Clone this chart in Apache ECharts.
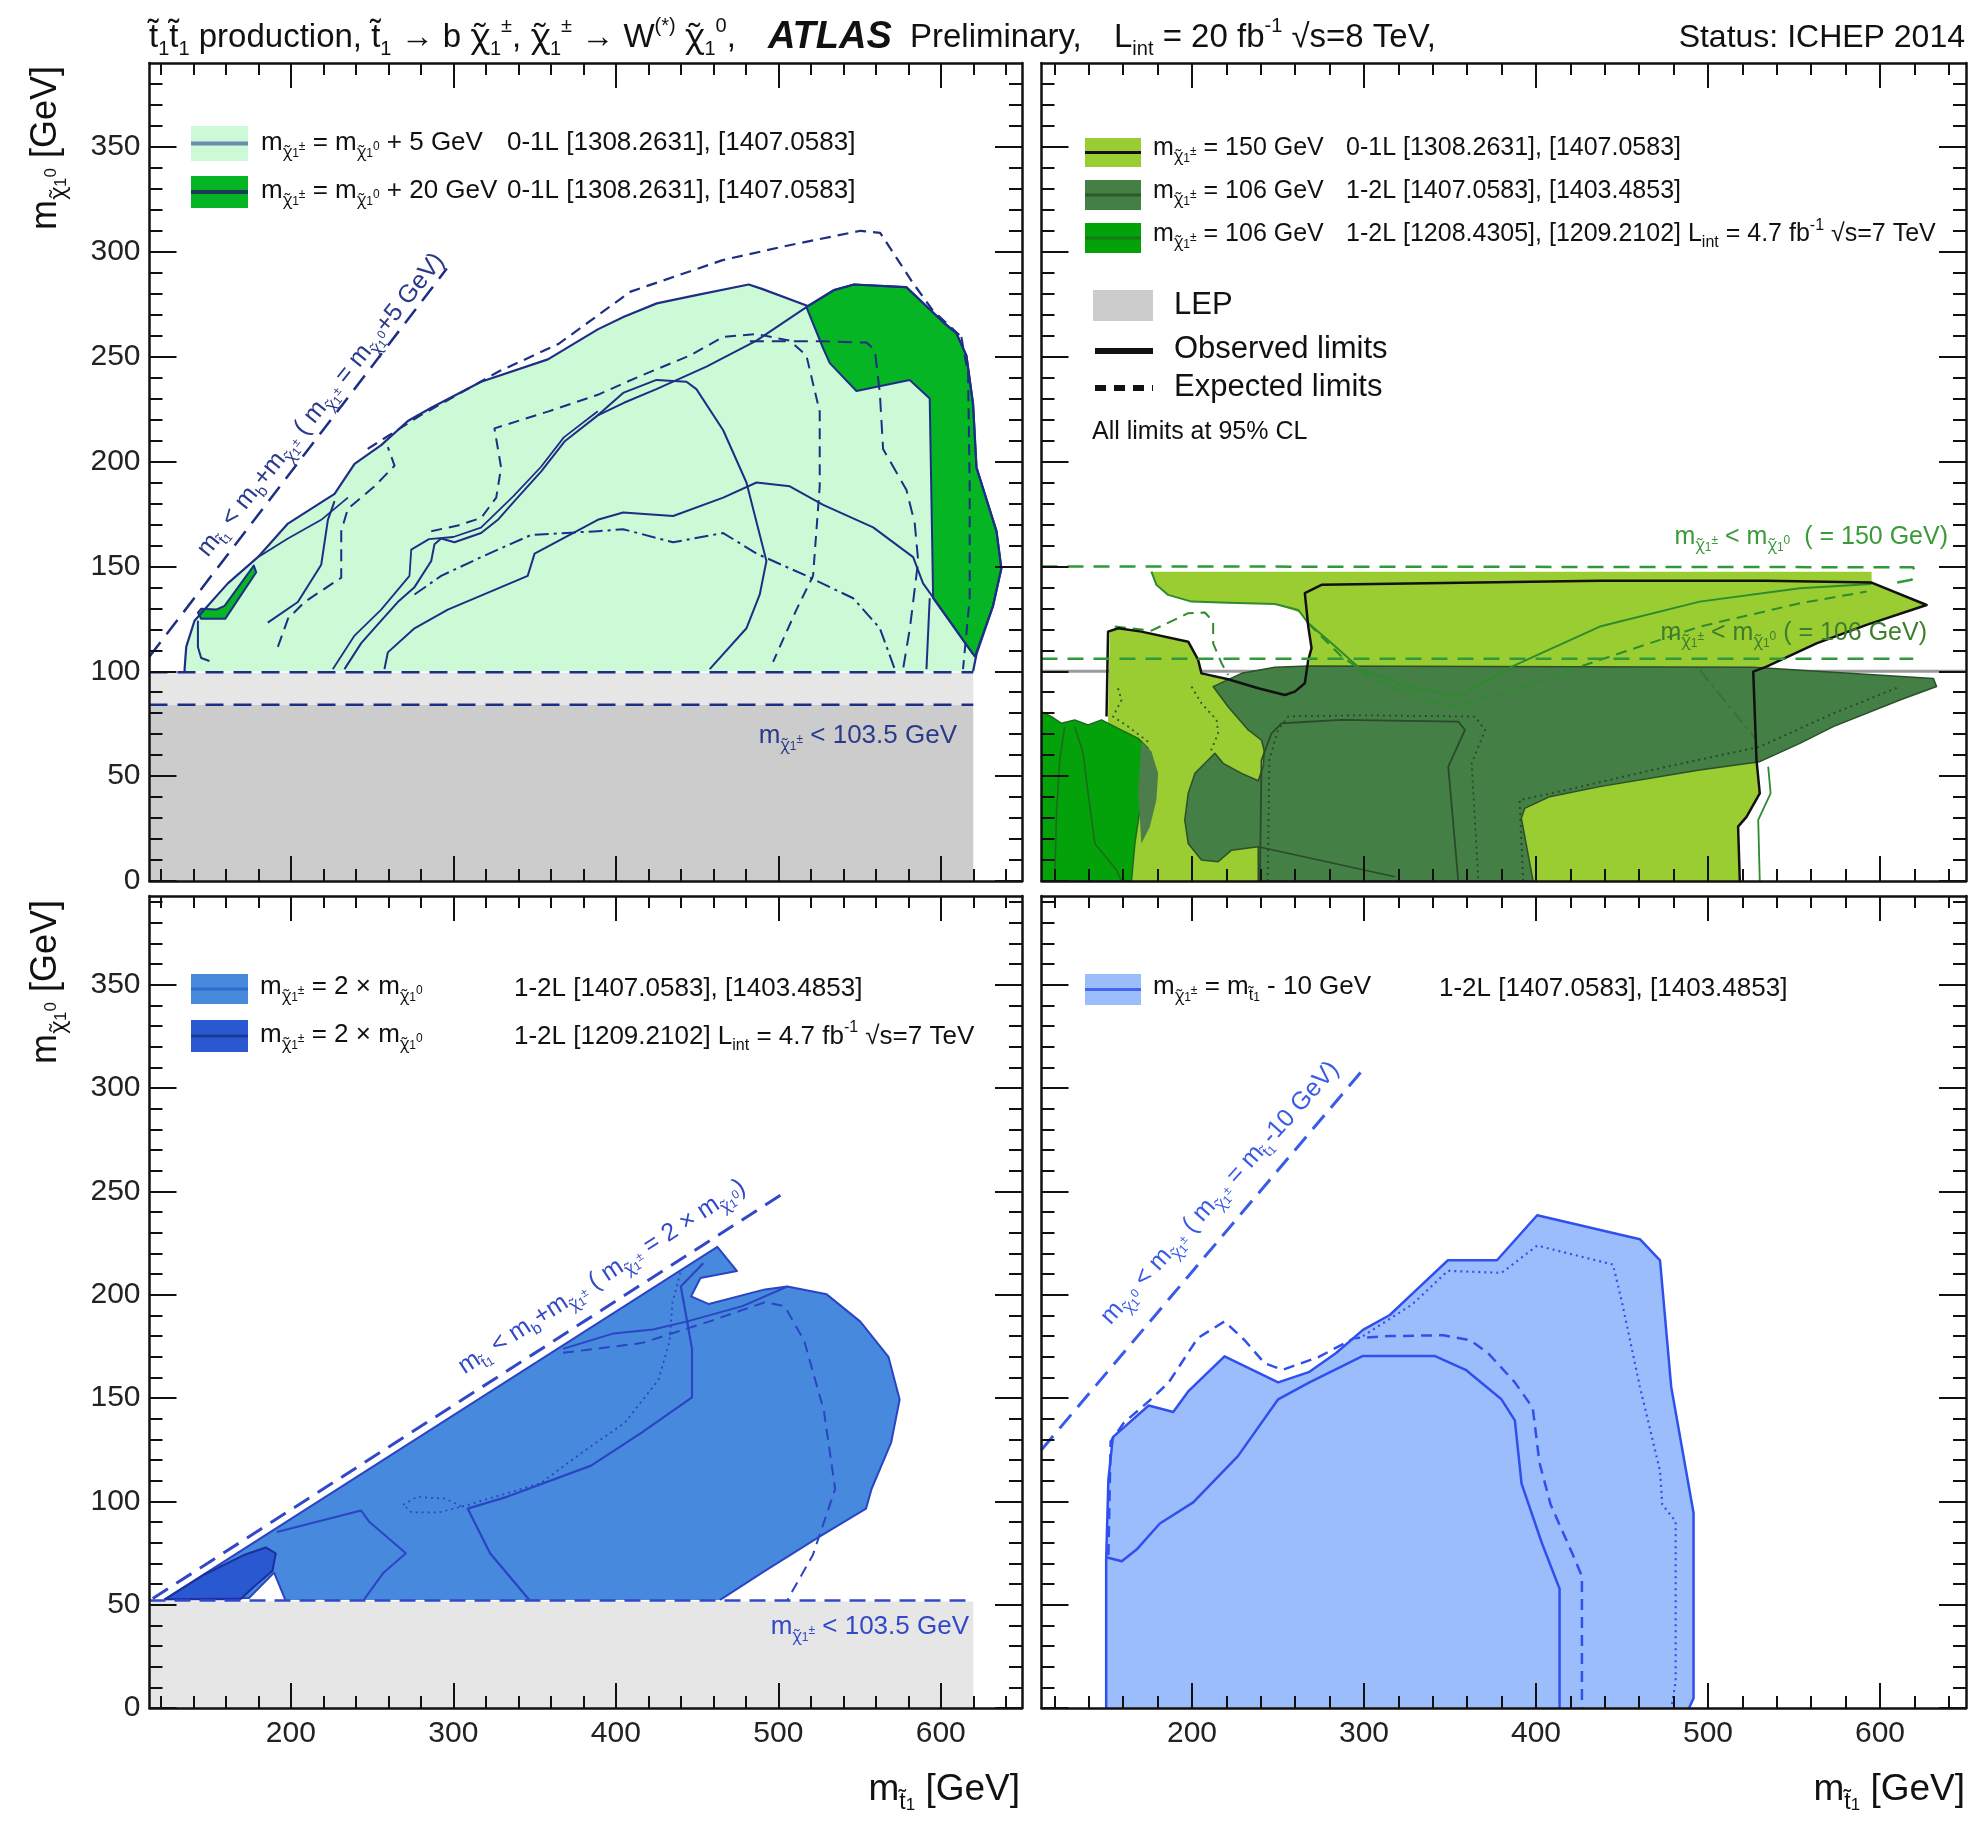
<!DOCTYPE html>
<html><head><meta charset="utf-8">
<script src="https://cdn.jsdelivr.net/npm/echarts/dist/echarts.min.js"></script>
<style>html,body{margin:0;padding:0;background:#fff}#c{width:1974px;height:1829px}</style>
</head><body><div id="c"></div>
<script>
// ---------- tick labels ----------
const xMajorTicks = [200,300,400,500,600];
const xMinorTicks = [120,140,160,180,220,240,260,280,320,340,360,380,420,440,460,480,520,540,560,580,620,640];
const yMajorTicks = [0,50,100,150,200,250,300,350];
const yMinorTicks = [10,20,30,40,60,70,80,90,110,120,130,140,160,170,180,190,210,220,230,240,260,270,280,290,310,320,330,340,360,370,380,390];

// ---------- top-left: m(chi+-) = m(chi0) + 5 / +20 GeV ----------
const tlLepDark = [[113,0],[620,0],[620,84],[113,84]];
const tlLepLight = [[113,84],[620,84],[620,99.3],[113,99.3]];
const tlObs5 = [[134.6,100],[134.6,101.0],[135.6,111.6],[140.7,124.1],[144.8,127.7],[161.2,141.9],[179.7,154.4],[198.2,170.4],[226.9,184.6],[239.2,198.9],[255.6,207.8],[272.0,219.3],[286.4,225.6],[317.1,238.0],[358.2,248.7],[388.9,263.0],[405.0,269.0],[425.2,275.4],[449.5,279.3],[481.8,284.4],[489.9,282.3],[518.2,274.1],[534.4,281.8],[546.6,284.4],[578.9,283.1],[601.4,266.5],[609.6,261.2],[615.8,250.5],[619.9,227.3],[622.0,197.1],[634.3,166.8],[637.3,149.0],[632.2,131.2],[622.0,108.1],[619.9,100]];
const tlObs20 = [[518.2,274.1],[534.4,281.8],[546.6,284.4],[578.9,283.1],[601.4,266.5],[609.6,261.2],[615.8,250.5],[619.9,227.3],[622.0,197.1],[634.3,166.8],[637.3,149.0],[632.2,131.2],[621.0,107.0],[595.3,134.8],[593.2,230.0],[580.9,238.9],[548.1,233.6],[531.7,246.9],[527.6,254.0],[517.3,273.6]];
const tlSliver = [[142.8,128.0],[144.8,125.0],[159.6,125.0],[178.7,147.2],[177.2,150.4],[159.2,131.2],[154.1,129.4],[144.8,129.8]];
const tlKin = [[113,107],[296,292]];
const tlLepLine1 = [[113,99.5],[620,99.5]];
const tlLepLine2 = [[113,84],[620,84]];
const tlExpEnv = [[247.3,206],[279.7,222],[328.2,243],[364.6,256],[409.1,281],[465.7,296],[506.1,303],[550.6,310],[562.7,309],[583.0,285],[595.1,272],[613.3,259]];
const tlA = [[233.0,101.0],[243.3,113.4],[255.6,124.1],[265.8,133.0],[276.1,140.1],[286.4,152.6],[288.4,160.6],[292.5,163.3],[300.7,161.5],[317.1,165.9],[327.4,172.2],[337.6,181.1],[354.1,195.3],[368.4,209.5],[388.9,222.0],[405,228],[425.0,234.5],[455.8,245.2],[486.6,257.6],[517.3,273.6]];
const tlA2 = [[225.8,101],[239.2,117],[255.6,129.4],[273,145.5],[274.1,158],[285,163],[300,164],[317,168.5],[337,183.5],[354,197.5],[368,211.5],[388.9,224]];
const tlB = [[457.8,101.0],[480.4,120.5],[488.6,136.6],[492.7,152.6],[480.4,190.0],[466.1,214.9],[449.6,234.5],[443.5,238.0],[425.0,238.9],[404.5,232.7],[388.9,222.0]];
const tlC = [[257.6,101],[259.7,109],[276.1,120.5],[296.6,129.4],[345.8,145.5],[350,156.1],[388.9,172.2],[404.5,175.7],[435.3,174],[466.1,182.8],[486.6,190],[507.1,188.2],[527.6,179.3],[558.4,168.6],[583,154.4],[589.1,141.9],[597.3,133],[619.9,108.1]];
const tlD = [[286.4,166.8],[302.8,169.5],[317.1,173.1],[326.4,182.8],[329.4,197.1],[325.3,215.8],[358.2,223.8],[388.9,231.8],[414.8,240.7],[445.5,250.5],[466.1,259.4],[486.6,260.8],[507.1,257.6],[517.3,250.5],[525.5,223.8],[525.5,188.2],[521.4,145.5],[511.2,129.4],[496.8,104.5]];
const tlE = [[482.5,257.3],[527.6,257.3],[554.3,256.7],[559.4,253.2],[562.5,232.7],[564.5,206.0],[578.9,186.4],[584.0,170.4],[586.1,152.6],[581.0,120.5],[576.8,101.0]];
const tlF = [[276.1,136.6],[292.5,145.5],[317.1,154.4],[347.9,165.0],[388.9,166.8],[404.5,167.7],[435.3,161.5],[466.1,165.9],[486.6,156.1],[517.3,145.5],[546.1,134.8],[562.5,120.5],[571.7,101.0]];
const tlG = [[192,111.6],[198.2,125],[208.4,133],[231,144.6],[231,166.8],[235.1,177.5],[251.5,188.2],[263.8,198],[259.7,206.9]];
const tlH = [[185.8,123.2],[204.3,133],[218.7,150.8],[222.8,172.2],[226.9,181.1]];
const tlH2 = [[179.7,154.4],[198.2,163.3],[218.7,172.2],[235.1,182.8]];
const tlHook = [[142.8,124.1],[142.8,111.6],[144.8,106.3],[149.9,104.9]];
const tlBandExp = [[612.7,259.4],[616.8,241.6],[617.8,188.2],[617.8,134.8],[613.7,101]];
const tlBandObs = [[593.2,134.8],[591.2,101.0]];

// ---------- top-right: m(chi+-) = 150 / 106 GeV ----------
const trLep100 = [[112.5,100],[650,100]];
const trLime = [[176.4,147.5],[595.1,147.5],[595.1,142.0],[627.1,131.6],[592.2,122.1],[563.1,113.3],[534.0,102.5],[528.2,100.6],[528.2,57.7],[530.1,41.8],[522.4,30.6],[517.5,25.9],[518.5,0],[151.2,0],[151.2,78.4],[152.2,118.9],[157.1,120.5],[170.6,118.9],[197.8,114.1],[203.6,105.4],[206.5,98.2],[221.0,95.9],[267.6,100.6],[269.5,111.7],[267.6,121.3],[263.7,127.7],[248.2,132.1],[221.0,132.7],[199.7,133.2],[186.1,136.4],[179.3,141.6]];
const trDark = [[212.3,92.7],[228.8,99.0],[248.2,101.9],[267.6,102.5],[526.3,101.9],[631.0,96.6],[632.9,92.7],[611.6,86.3],[572.8,73.6],[553.4,65.6],[530.1,56.9],[495.2,52.9],[437.1,45.0],[408.0,40.2],[393.4,34.6],[391.5,29.9],[398.3,0],[238.5,0],[238.5,16.3],[223.0,14.7],[215.2,9.2],[205.5,10.0],[197.8,17.9],[195.8,29.1],[197.8,41.8],[201.7,51.3],[207.5,56.1],[213.3,60.9],[218.1,56.1],[228.8,51.3],[238.5,47.8],[241.5,55],[242,62],[240.4,67.2],[232.7,72.0],[221.0,83.1]];
const trBright = [[112.5,80.7],[118.3,78.4],[124.1,75.2],[131.8,76.8],[139.6,74.4],[147.4,76.8],[157.0,72.8],[168.7,68.0],[174.5,63.3],[176.4,54.5],[173.5,45.0],[169.7,33.8],[166.8,17.9],[164.8,0],[112.5,0]];
const trStrip = [[170.6,66.4],[176.4,61.7],[180.3,51.3],[179.3,38.6],[175.5,25.9],[170.6,17.9],[168.7,41.8]];
const trObs = [[150.3,78.4],[151.2,118.9],[157.1,120.5],[170.6,118.9],[197.8,114.1],[203.6,105.4],[205.5,99.0],[221.0,96.2],[238.5,91.9],[254.0,88.7],[259.8,90.3],[265.6,94.3],[267.6,105.4],[269.5,111.0],[267.6,121.3],[265.6,137.2],[275.3,141.2],[437.1,143.2],[534.0,143.2],[595.1,142.3],[627.1,131.6],[592.2,122.1],[563.1,113.3],[534.0,102.2],[526.3,99.8],[528.2,57.7],[530.1,41.8],[522.4,30.6],[517.5,25.9],[518.5,0]];
const trKin150 = [[112.5,150],[619.3,149.6],[620.3,146.7],[618.4,143.6],[607.7,142.0]];
const trKin106 = [[112.5,106],[619.3,106]];
const trG1 = [[176.4,147.5],[179.3,141.2],[186.1,136.4],[199.7,133.2],[221.0,132.7],[248.2,132.1],[261.8,129.2],[267.6,122.9],[281.2,113.3],[298.6,100.6],[325.8,92.7],[354.8,87.9],[385.9,102.2],[437.1,121.3],[495.2,133.2],[553.4,139.6],[595.1,141.6]];
const trG2 = [[267.6,122.9],[287.0,107.0],[306.4,95.9],[335.5,86.3],[354.8,83.1],[385.9,91.1],[437.1,105.4],[495.2,121.3],[553.4,132.4],[592.2,138.0]];
const trG3 = [[155.1,121.3],[176.4,119.4],[193.9,126.1],[197.8,127.7],[207.5,128.0],[212.3,123.7],[212.3,113.3],[217.2,103.8],[221.0,98.2]];
const trDkLine = [[239.5,0],[240.4,57.7],[246.2,70.4],[252.1,75.2],[287.0,76.8],[354.8,76.0],[358.7,72.0],[349.0,54.5],[354.8,0]];
const trDkDot = [[244,0],[245,58],[250,72],[256,78.5],[300,79],[364.5,78.4],[370.4,72.0],[362.6,56.1],[366.5,0]];
const trDot7 = [[392.5,0],[390.5,38.6],[417.7,43.4],[475.9,54.5],[530.1,64.0],[572.8,79.9],[611.6,92.7]];
const trDashDot = [[495.2,100.6],[528.2,67.2]];
const trDkCont = [[238.5,16.3],[318,2]];
const trWhite = [[532.1,54.5],[534.0,41.8],[526.3,29.1],[527.2,0]];
const trGreenR = [[535.0,54.5],[536.4,41.8],[529.2,29.1],[530.1,0]];
const trBg1 = [[120.2,0],[121.2,32.2],[123.1,57.7],[126.0,73.6]];
const trBg2 = [[131.8,73.6],[136.7,60.9],[139.6,41.8],[143.5,17.9],[156.1,5.2],[159.0,0]];
const trDot1 = [[157.0,91.9],[159.0,86.3],[154.1,78.4],[162.9,73.6],[174.5,66.4]];
const trDot2 = [[199.7,92.7],[205.5,84.7],[214.3,76.8],[215.2,70.4],[210.4,60.9]];

// ---------- bottom-left: m(chi+-) = 2 x m(chi0) ----------
const blLep = [[113,0],[620,0],[620,51.5],[113,51.5]];
const blBlue = [[196.6,52.3],[189.7,65.5],[174.2,53.2],[122.4,52.6],[462.5,223.2],[474.6,211.5],[452.1,208.1],[446.3,199.2],[457.3,195.5],[491.8,202.6],[505.6,204.0],[529.8,200.2],[550.5,187.0],[567.8,170.0],[574.7,149.3],[569.5,128.6],[557.4,106.0],[554.0,96.5],[526.4,83.4],[491.8,66.4],[464.2,52.3]];
const blBlue7 = [[169.0,52.6],[122.4,52.6],[146.5,64.5],[170.7,73.9],[184.5,77.7],[190.7,74.9],[188.7,66.4],[177.6,58.9],[169.0,52.6]];
const blL1 = [[191.4,85.2],[243.2,95.6],[248.4,90.0],[270.8,74.9],[257.0,65.5],[244.9,52.3]];
const blL2 = [[346.8,52.3],[322.6,74.9],[308.8,96.5],[333.0,102.2],[384.8,117.3],[415.9,133.3],[446.9,150.3],[446.9,173.8],[443.5,188.9],[440.0,204.0],[453.8,215.3]];
const blL3 = [[367.5,173.8],[398.6,181.3],[422.8,183.2],[443.5,187.0],[478.0,194.5],[505.6,204.0]];
const blExp = [[367.5,171.9],[415.9,176.6],[457.3,187.0],[491.8,196.4],[503.9,194.5],[516.0,177.6],[528.1,143.7],[535.0,106.0],[521.2,73.9],[505.6,52.3]];
const blDot = [[305.4,97.5],[353.7,108.8],[377.9,122.9],[405.5,138.0],[426.2,158.7],[433.1,177.6],[434.9,196.4],[440.0,211.5]];
const blLoop = [[269.1,98.4],[277.7,102.2],[295.0,101.3],[305.4,97.5],[291.6,94.7],[274.3,94.7],[269.1,98.4]];
const blKin = [[115,53],[505,250]];
const blLepLine = [[113,52],[620,52]];

// ---------- bottom-right: m(chi+-) = m(stop) - 10 GeV ----------
const brFill = [[150.1,0],[150.1,72.0],[151.4,110.7],[154.0,131.1],[174.8,146.4],[189.1,143.3],[198.1,153.5],[218.9,170.2],[250.1,157.6],[268.3,162.7],[283.8,171.8],[299.4,183.0],[315.0,190.2],[328.0,200.4],[348.8,216.7],[377.3,216.7],[400.7,238.5],[460.4,226.9],[472.1,216.7],[478.6,155.5],[489.0,106.6],[491.6,94.4],[491.6,4.7],[489.0,0]];
const brObsIn = [[150.1,73.0],[159.2,71.0],[168.3,77.1],[181.3,89.3],[200.7,99.5],[226.7,121.9],[250.1,149.4],[268.3,157.6],[299.4,170.4],[341.0,170.4],[359.1,163.7],[379.9,149.4],[387.7,139.2],[391.6,108.6],[403.3,80.1],[413.7,57.7],[413.7,0]];
const brExp = [[151.4,74.0],[152.7,129.0],[160.5,138.2],[174.8,148.4],[186.5,157.6],[203.3,179.0],[218.9,187.1],[230.6,178.0],[242.3,166.8],[252.7,163.7],[273.5,169.8],[294.2,179.0],[315.0,180.0],[346.2,180.4],[361.7,178.0],[372.1,171.8],[387.7,157.6],[398.1,145.3],[402.0,118.8],[408.5,98.5],[421.5,74.0],[426.7,63.8],[426.7,0]];
const brDot = [[299.4,180.0],[328.0,195.3],[348.8,211.6],[380.0,210.6],[400.7,223.8],[444.8,214.6],[450.0,196.3],[460.4,155.5],[472.1,114.8],[473.4,98.5],[481.2,90.3],[481.2,12.8],[478.6,0]];
const brKin = [[112.5,125],[300.5,310]];

// ---------- layout ----------
const FF = 'Liberation Sans, Arial, Helvetica, sans-serif';
const FG = 'Noto Sans, DejaVu Sans, sans-serif';
const GRIDS = [
  {left:149.5, top:63, width:872.5, height:818},
  {left:1041.5, top:63, width:924.5, height:818},
  {left:149.5, top:896, width:872.5, height:812},
  {left:1041.5, top:896, width:924.5, height:812}
];
const X_RANGE = [[113,650],[112.5,650],[113,650],[112.5,650]];
const Y_RANGE = [[0,390],[0,390],[0,393],[0,393]];

function mkX(g,pos,major){
  const [mn,mx]=X_RANGE[g];
  const vals=(major?xMajorTicks:xMinorTicks).filter(v=>v>mn&&v<mx);
  return {type:'value',gridIndex:g,min:mn,max:mx,position:pos,z:10,
    axisLine:{show:major,onZero:false,lineStyle:{color:'#111',width:2.5}},
    axisTick:{show:true,inside:true,length:major?25:12,customValues:vals,lineStyle:{color:'#111',width:2}},
    axisLabel:{show:major&&pos==='bottom'&&g>=2,customValues:vals,fontSize:30,fontFamily:FF,color:'#222',margin:11},
    splitLine:{show:false}};
}
function mkY(g,pos,major){
  const [mn,mx]=Y_RANGE[g];
  const vals=(major?yMajorTicks:yMinorTicks).filter(v=>v>=mn&&v<mx);
  return {type:'value',gridIndex:g,min:mn,max:mx,position:pos,z:10,
    axisLine:{show:major,onZero:false,lineStyle:{color:'#111',width:2.5}},
    axisTick:{show:true,inside:true,length:major?27:13,customValues:vals,lineStyle:{color:'#111',width:2}},
    axisLabel:{show:major&&pos==='left'&&(g===0||g===2),customValues:vals,fontSize:30,fontFamily:FF,color:'#222',margin:9},
    splitLine:{show:false}};
}
const xAxis=[], yAxis=[];
for(let g=0;g<4;g++){
  xAxis.push(mkX(g,'bottom',true),mkX(g,'bottom',false),mkX(g,'top',true),mkX(g,'top',false));
  yAxis.push(mkY(g,'left',true),mkY(g,'left',false),mkY(g,'right',true),mkY(g,'right',false));
}

const series=[];
function P(g,pts,fill,stroke,lw){
  series.push({type:'custom',xAxisIndex:4*g,yAxisIndex:4*g,clip:true,silent:true,animation:false,
    data:[pts[0]],
    renderItem:function(params,api){
      const st={fill:fill,lineJoin:'round'};
      if(stroke){st.stroke=stroke;st.lineWidth=lw||1.5;}
      return {type:'polygon',shape:{points:pts.map(p=>api.coord(p))},style:st};
    }});
}
function L(g,pts,color,w,dash,z){
  series.push({type:'line',xAxisIndex:4*g,yAxisIndex:4*g,data:pts,symbol:'none',showSymbol:false,silent:true,animation:false,
    z:z||3,lineStyle:{color:color,width:w,type:dash||'solid',cap:'butt',join:'round'}});
}

// colours
const NAVY='#1f2e85', C_LG='#ccf9d6', C_G='#05b523';
const C_LIME='#9acd32', C_DK='#447f45', C_BR='#03a10a', C_GL='#2e8b2e';
const C_B='#4789dd', C_DB='#2a58d0', C_BL='#2b44c4';
const C_LB='#9bbdfc', C_LBL='#3050ee';
const DASH=[11,7], LDASH=[18,10], DOT=[2,4], DDOT=[14,5,3,5];

// TL
P(0,tlLepDark,'#cccccc'); P(0,tlLepLight,'#e6e6e6');
P(0,tlObs5,C_LG); P(0,tlObs20,C_G,NAVY,2); P(0,tlSliver,C_G,NAVY,2);
L(0,tlObs5,NAVY,2.2);
L(0,tlExpEnv,NAVY,2.2,DASH); L(0,tlA,NAVY,2); L(0,tlA2,NAVY,1.8); L(0,tlB,NAVY,2); L(0,tlC,NAVY,2);
L(0,tlD,NAVY,2,DASH); L(0,tlE,NAVY,2,[14,8]); L(0,tlF,NAVY,2,DDOT); L(0,tlG,NAVY,2,[12,7]);
L(0,tlH,NAVY,2); L(0,tlH2,NAVY,1.8); L(0,tlHook,NAVY,2); L(0,tlBandExp,NAVY,2,DASH); L(0,tlBandObs,NAVY,2);
L(0,tlKin,NAVY,2.5,LDASH); L(0,tlLepLine1,NAVY,2.5,LDASH); L(0,tlLepLine2,NAVY,2.5,LDASH);

// TR
L(1,trLep100,'#9a9a9a',3,'solid',1);
P(1,trLime,C_LIME); P(1,trDark,C_DK,'#2b4f2b',1.5); P(1,trBright,C_BR,'#1d6a1d',1.5); P(1,trStrip,'#4d7d4d');
L(1,trDkLine,'#2a4a2a',1.8); L(1,trDkDot,'#2a4a2a',1.8,DOT); L(1,trDot7,'#2a4a2a',2,DOT); L(1,trDashDot,'#2a7a2a',1.8,DDOT);
L(1,trDkCont,'#2a4a2a',1.5); L(1,trBg1,'#1d6a1d',1.5); L(1,trBg2,'#1d6a1d',1.5);
L(1,trDot1,'#335533',1.8,DOT); L(1,trDot2,'#335533',1.8,DOT);
L(1,trWhite,'#ffffff',4); L(1,trGreenR,C_GL,1.8);
L(1,trG1,C_GL,2); L(1,trG2,C_GL,2,DASH); L(1,trG3,C_GL,2,DASH);
L(1,trObs,'#111111',2.5);
L(1,trKin150,'#2f9a3a',2.5,[16,10]); L(1,trKin106,'#2f9a3a',2.5,[16,10]);

// BL
P(2,blLep,'#e6e6e6');
P(2,blBlue,C_B); P(2,blBlue7,C_DB);
L(2,blBlue,C_BL,2); L(2,blBlue7,'#1a30a0',2);
L(2,blL1,C_BL,2); L(2,blL2,C_BL,2.2); L(2,blL3,C_BL,2); L(2,blExp,C_BL,2,DASH); L(2,blDot,C_BL,1.8,DOT); L(2,blLoop,C_BL,1.6,DOT);
L(2,blKin,'#3348c8',3,LDASH); L(2,blLepLine,'#3348c8',2.5,[16,9]);

// BR
P(3,brFill,C_LB); L(3,brFill,C_LBL,2.5);
L(3,brObsIn,C_LBL,2.5); L(3,brExp,C_LBL,2.5,DASH); L(3,brDot,C_LBL,2.2,DOT);
L(3,brKin,'#3a5ae8',3,LDASH);

// ---------- texts ----------
function rich(F){
  const r={
    n:{fontSize:F,lineHeight:Math.round(F*1.3),verticalAlign:'middle'},
    nx:{fontSize:F,lineHeight:Math.round(F*1.3),verticalAlign:'middle',fontFamily:FG},
    s:{fontSize:Math.round(F*0.62),lineHeight:Math.round(F*0.62),verticalAlign:'bottom'},
    sx:{fontSize:Math.round(F*0.62),lineHeight:Math.round(F*0.62),verticalAlign:'bottom',fontFamily:FG},
    p:{fontSize:Math.round(F*0.62),lineHeight:Math.round(F*0.62),verticalAlign:'top'},
    ss:{fontSize:Math.round(F*0.46),lineHeight:Math.round(F*0.46),verticalAlign:'bottom'},
    sp:{fontSize:Math.round(F*0.46),lineHeight:Math.round(F*0.46),height:F,verticalAlign:'bottom'},
    b:{fontSize:F,lineHeight:Math.round(F*1.3),verticalAlign:'middle',fontWeight:'bold',fontStyle:'italic'}
  };
  for(const k in r) if(!r[k].fontFamily) r[k].fontFamily=FF;
  return r;
}
function T(x,y,text,F,color,align,rot){
  return {type:'text',x:x,y:y,rotation:rot||0,z:100,silent:true,
    style:{text:text,rich:rich(F),fontSize:F,fontFamily:FF,fill:color,align:align||'left',textAlign:align||'left',verticalAlign:'middle',textVerticalAlign:'middle'}};
}
function R(x,y,w,h,fill){return {type:'rect',z:100,silent:true,shape:{x:x,y:y,width:w,height:h},style:{fill:fill}};}
function LN(x1,y1,x2,y2,stroke,w,dash){const st={stroke:stroke,lineWidth:w};if(dash)st.lineDash=dash;return {type:'line',z:101,silent:true,shape:{x1:x1,y1:y1,x2:x2,y2:y2},style:st};}

const CPM='{sx|χ̃}{ss|1}{sp|±}', C0='{sx|χ̃}{ss|1}{sp|0}', ST='{s|t̃}{ss|1}';
const REF1='{n|0-1L [1308.2631], [1407.0583]}';
const REF2='{n|1-2L [1407.0583], [1403.4853]}';
const K='#111';
const els=[
  // title
  T(149,38,'{n|t̃}{s|1}{n|t̃}{s|1}{n| production, t̃}{s|1}{n| → b }{nx|χ̃}{s|1}{p|±}{n|, }{nx|χ̃}{s|1}{p|±}{n| → W}{p|(*)}{n| }{nx|χ̃}{s|1}{p|0}{n|,}',33,K),
  T(768,38,'{b|ATLAS}',38,K),
  T(910,38,'{n|Preliminary,}',33,K),
  T(1114,38,'{n|L}{s|int}{n| = 20 fb}{p|-1}{n| √s=8 TeV,}',33,K),
  T(1965,38,'{n|Status: ICHEP 2014}',32,K,'right'),
  // axis titles
  T(46,66,'{n|m}'+C0+'{n| [GeV]}',36,K,'right',Math.PI/2),
  T(46,900,'{n|m}'+C0+'{n| [GeV]}',36,K,'right',Math.PI/2),
  T(1020,1790,'{n|m}'+ST+'{n| [GeV]}',37,K,'right'),
  T(1965,1790,'{n|m}'+ST+'{n| [GeV]}',37,K,'right'),
  // TL legend
  R(191,126,57,35,C_LG), LN(191,143.5,248,143.5,'#6b8cae',4),
  R(191,176,57,32,C_G), LN(191,192,248,192,'#1b3a5a',4),
  T(261,143,'{n|m}'+CPM+'{n| = m}'+C0+'{n| + 5 GeV}',26,K),
  T(507,143,REF1,26,K),
  T(261,191,'{n|m}'+CPM+'{n| = m}'+C0+'{n| + 20 GeV}',26,K),
  T(507,191,REF1,26,K),
  // TL labels
  T(957,736,'{n|m}'+CPM+'{n| < 103.5 GeV}',26,'#2a3a8a','right'),
  T(321,405,'{n|m}'+ST+'{n| < m}{s|b}{n|+m}'+CPM+'{n| ( m}'+CPM+'{n| = m}'+C0+'{n|+5 GeV)}',25,'#2a3a8a','center',0.897),
  // TR legend
  R(1085,138,56,29,C_LIME), LN(1085,152.5,1141,152.5,'#111',3),
  R(1085,180,56,30,C_DK), LN(1085,195,1141,195,'#2a5a2a',3),
  R(1085,223,56,30,C_BR), LN(1085,238,1141,238,'#157a15',3),
  T(1153,148,'{n|m}'+CPM+'{n| = 150 GeV}',25,K),
  T(1346,148,REF1,25,K),
  T(1153,191,'{n|m}'+CPM+'{n| = 106 GeV}',25,K),
  T(1346,191,REF2,25,K),
  T(1153,234,'{n|m}'+CPM+'{n| = 106 GeV}',25,K),
  T(1346,234,'{n|1-2L [1208.4305], [1209.2102] L}{s|int}{n| = 4.7 fb}{p|-1}{n| √s=7 TeV}',25,K),
  R(1093,290,60,31,'#cccccc'),
  T(1174,305,'{n|LEP}',31,K),
  LN(1095,351,1153,351,'#111',6),
  T(1174,349,'{n|Observed limits}',31,K),
  LN(1095,388,1153,388,'#111',6,[11,8]),
  T(1174,387,'{n|Expected limits}',31,K),
  T(1092,432,'{n|All limits at 95% CL}',25,K),
  // TR labels
  T(1948,537,'{n|m}'+CPM+'{n| < m}'+C0+'{n|  ( = 150 GeV)}',25,'#3a9a3a','right'),
  T(1927,633,'{n|m}'+CPM+'{n| < m}'+C0+'{n| ( = 106 GeV)}',25,'#3d7d2d','right'),
  // BL legend
  R(191,974,57,30,C_B), LN(191,989,248,989,'#2e6bd0',3),
  R(191,1020,57,32,C_DB), LN(191,1036,248,1036,'#1a3a9a',3),
  T(260,987,'{n|m}'+CPM+'{n| = 2 × m}'+C0,26,K),
  T(514,989,REF2,26,K),
  T(260,1035,'{n|m}'+CPM+'{n| = 2 × m}'+C0,26,K),
  T(514,1037,'{n|1-2L [1209.2102] L}{s|int}{n| = 4.7 fb}{p|-1}{n| √s=7 TeV}',26,K),
  // BL labels
  T(969,1627,'{n|m}'+CPM+'{n| < 103.5 GeV}',26,'#3348c8','right'),
  T(602,1277,'{n|m}'+ST+'{n| < m}{s|b}{n|+m}'+CPM+'{n| ( m}'+CPM+'{n| = 2 × m}'+C0+'{n|)}',25,'#3348c8','center',0.576),
  // BR legend
  R(1085,974,56,31,C_LB), LN(1085,989.5,1141,989.5,'#4466ee',3),
  T(1153,987,'{n|m}'+CPM+'{n| = m}'+ST+'{n| - 10 GeV}',26,K),
  T(1439,989,REF2,26,K),
  // BR label
  T(1220,1193,'{n|m}'+C0+'{n| < m}'+CPM+'{n| ( m}'+CPM+'{n| = m}'+ST+'{n|-10 GeV)}',25,'#3a5ae8','center',0.84)
];

const chart=echarts.init(document.getElementById('c'),null,{renderer:'canvas',width:1974,height:1829});
chart.setOption({backgroundColor:'#ffffff',animation:false,grid:GRIDS.map(g=>Object.assign({show:false,containLabel:false},g)),
  xAxis:xAxis,yAxis:yAxis,series:series,graphic:{elements:els}});
</script></body></html>
